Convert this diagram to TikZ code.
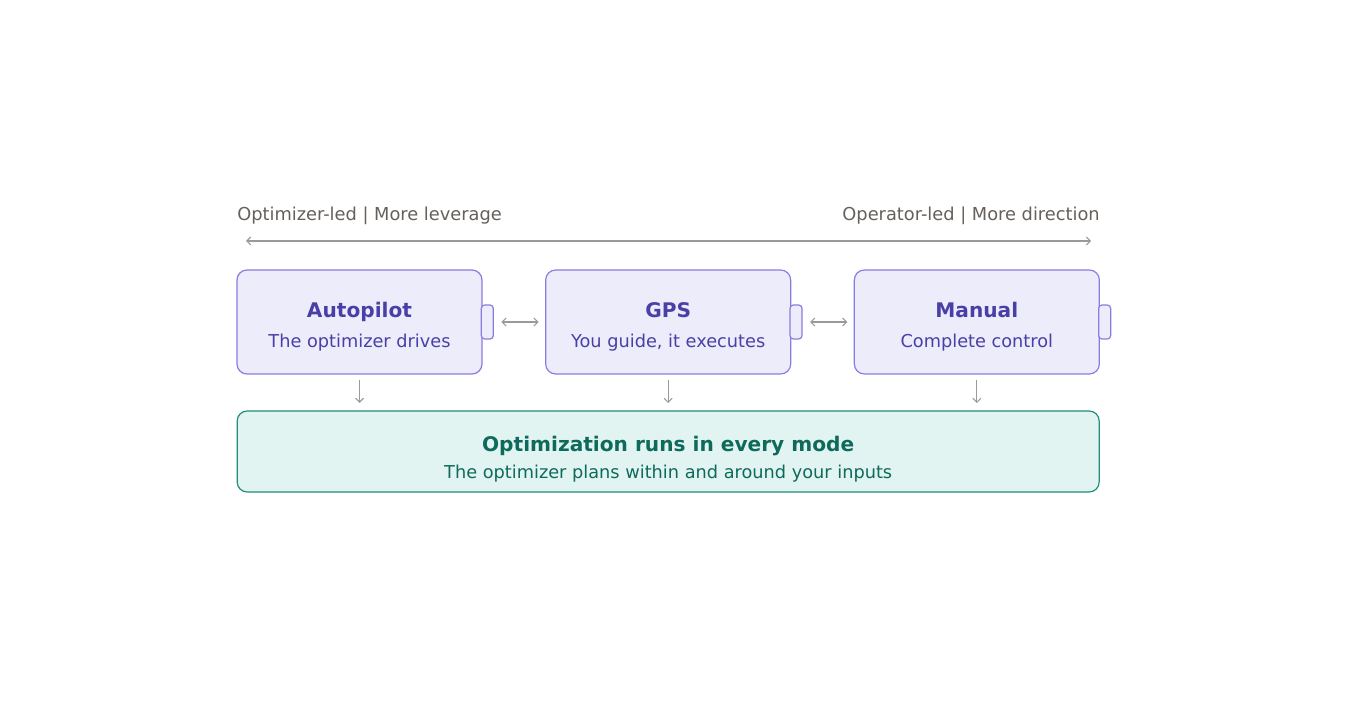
\documentclass[tikz,border=0pt]{standalone}
\usepackage{fontspec}
\setmainfont{DejaVu Sans}
\usetikzlibrary{positioning,arrows.meta}

\definecolor{modefill}{HTML}{EDECFA}
\definecolor{modedraw}{HTML}{8A7DE0}
\definecolor{modetext}{HTML}{4A3FA6}
\definecolor{runfill}{HTML}{E1F4F1}
\definecolor{rundraw}{HTML}{238C7B}
\definecolor{runtext}{HTML}{0E6A5B}
\definecolor{linkgray}{HTML}{9A9A9A}
\definecolor{labelgray}{HTML}{665F5A}

\begin{document}
\begin{tikzpicture}[x=0.75pt, y=-0.75pt, node distance=47.75pt]
    \tikzstyle{mode} = [rectangle, rounded corners=7.5pt, minimum width=183.75pt, minimum height=78pt, draw=modedraw, line width=0.9pt, fill=modefill, inner sep=0pt, outer sep=0pt]
    \tikzstyle{tab} = [rectangle, rounded corners=2.5pt, minimum width=9pt, minimum height=25.5pt, draw=modedraw, line width=0.9pt, fill=modefill, inner sep=0pt, outer sep=0pt]
    \tikzstyle{run} = [rectangle, rounded corners=7.5pt, minimum width=646.5pt, minimum height=60.75pt, draw=rundraw, line width=0.9pt, fill=runfill, inner sep=0pt, outer sep=0pt]
    \tikzstyle{title} = [anchor=base, inner sep=0pt, font=\bfseries\fontsize{15.1}{18}\selectfont]
    \tikzstyle{subtitle} = [anchor=base, inner sep=0pt, font=\fontsize{13.3}{16}\selectfont]
    \tikzstyle{endlabel} = [text=labelgray, font=\fontsize{13.35}{16}\selectfont, inner sep=0pt]
    \tikzstyle{link} = [draw=linkgray, line width=0.8pt, {Straight Barb[length=3pt,width=6pt]}-{Straight Barb[length=3pt,width=6pt]}]
    \tikzstyle{feed} = [draw=linkgray, line width=0.8pt, -{Straight Barb[length=3pt,width=6pt]}]

    \useasboundingbox (0,0) rectangle (1360,712);

    % Scale along the top
    \node [endlabel, anchor=base west] (optled) at (237,221) {Optimizer-led | More leverage};
    \node [endlabel, anchor=base east] (opsled) at (1100,221) {Operator-led | More direction};
    \coordinate (scaleleft) at (246,241);
    \coordinate (scaleright) at (1091,241);
    \draw [link] (scaleleft) -- (scaleright);

    % Modes
    \node [mode] (autopilot) at (359.5,322) {};
    \node [mode, right=of autopilot] (gps) {};
    \node [mode, right=of gps] (manual) {};

    \node [title, text=modetext] (autopilottitle) at ([yshift=3pt]autopilot.center) {Autopilot};
    \node [subtitle, text=modetext] (autopilotsub) at ([yshift=-19.5pt]autopilot.center) {The optimizer drives};
    \node [title, text=modetext] (gpstitle) at ([yshift=3pt]gps.center) {GPS};
    \node [subtitle, text=modetext] (gpssub) at ([yshift=-19.5pt]gps.center) {You guide, it executes};
    \node [title, text=modetext] (manualtitle) at ([yshift=3pt]manual.center) {Manual};
    \node [subtitle, text=modetext] (manualsub) at ([yshift=-19.5pt]manual.center) {Complete control};

    % Tabs on the right side
    \node [tab, right=-0.5pt of autopilot] (autopilottab) {};
    \node [tab, right=-0.5pt of gps] (gpstab) {};
    \node [tab, right=-0.5pt of manual] (manualtab) {};

    % Optimization layer
    \node [run, below=27.75pt of gps] (runs) {};
    \node [title, text=runtext] (runstitle) at ([yshift=0pt]runs.center) {Optimization runs in every mode};
    \node [subtitle, text=runtext] (runssub) at ([yshift=-20.6pt]runs.center) {The optimizer plans within and around your inputs};

    % Connections
    \draw [link, shorten <=6pt, shorten >=5.25pt] (autopilottab) -- (gps);
    \draw [link, shorten <=6pt, shorten >=5.25pt] (gpstab) -- (manual);

    \draw [feed, shorten <=4.5pt, shorten >=6pt] (autopilot) -- (autopilot |- runs.north);
    \draw [feed, shorten <=4.5pt, shorten >=6pt] (gps) -- (runs);
    \draw [feed, shorten <=4.5pt, shorten >=6pt] (manual) -- (manual |- runs.north);
\end{tikzpicture}
\end{document}
